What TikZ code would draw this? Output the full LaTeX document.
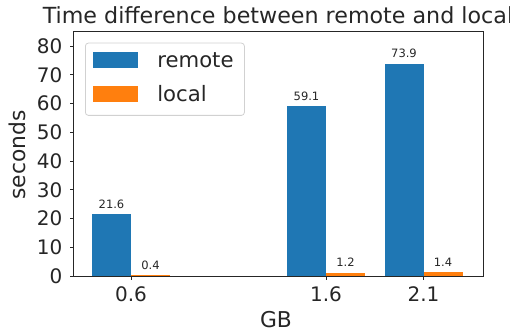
\documentclass[tikz,border=0pt]{standalone}
\usepackage{fontspec}
\setmainfont{DejaVu Sans}
\usepackage{xcolor}
\usetikzlibrary{positioning}
\definecolor{remoteblue}{HTML}{1F77B4}
\definecolor{localorange}{HTML}{FF7F0E}
\definecolor{inkgray}{HTML}{262626}

\begin{document}
\begin{tikzpicture}[
    x=1pt, y=-1pt,
    every node/.style={inner sep=0pt, text=inkgray},
    spine/.style={draw=inkgray, line width=0.9pt},
    tickmark/.style={draw=inkgray, line width=0.8pt},
    ticklabel/.style={font=\fontsize{20}{24}\selectfont},
    axlabel/.style={font=\fontsize{21.8}{26}\selectfont},
    barlabel/.style={font=\fontsize{11.5}{14}\selectfont, anchor=base},
    legendbox/.style={draw=black!18, fill=white, rounded corners=3pt, line width=0.8pt, anchor=north west},
    swatch/.style={minimum width=45pt, minimum height=16pt, anchor=north west},
    legendtext/.style={font=\fontsize{21.2}{25}\selectfont}
  ]
    \useasboundingbox (0,0) rectangle (510,336);

    % bars, in data units (GB along x, seconds up)
    \begin{scope}[shift={(14,276)}, x=195pt, y=2.875pt]
      \foreach \g/\r/\l [count=\i] in {0.6/21.6/0.4, 1.6/59.1/1.2, 2.1/73.9/1.4} {
        \fill[remoteblue] (\g-0.2,0) rectangle (\g,\r);
        \fill[localorange] (\g,0) rectangle (\g+0.2,\l);
        \node[barlabel] (rlab\i) at ([yshift=5.8pt]\g-0.1,\r) {\r};
        \node[barlabel] (llab\i) at ([yshift=5.8pt]\g+0.1,\l) {\l};
      }
    \end{scope}

    % axes frame and ticks
    \draw[spine] (73,31.7) rectangle (483,276);
    \foreach \v in {0,10,...,80} {
      \draw[tickmark] (73,276-\v*2.875) -- ++(-3.5,0);
      \node[ticklabel, anchor=east] (yt\v) at (62.5,276-\v*2.875) {\v};
    }
    \foreach \g [count=\i] in {0.6,1.6,2.1} {
      \pgfmathsetmacro\px{14+\g*195}
      \draw[tickmark] (\px,276) -- ++(0,3.5);
      \node[ticklabel, anchor=base] (xt\i) at (\px,301.5) {\g};
    }

    % titles
    \node[font=\fontsize{22.2}{26}\selectfont, anchor=base] (title) at (278,24) {Time difference between remote and local};
    \node[axlabel, anchor=base] (xlab) at (276,327.5) {GB};
    \node[axlabel, rotate=90, anchor=base] (ylab) at (25,155) {seconds};

    % legend
    \node[legendbox, minimum width=159pt, minimum height=72.3pt] (legend) at (85,42.7) {};
    \node[swatch, fill=remoteblue] (rswatch) at (92.3,51.7) {};
    \node[swatch, fill=localorange, below=17.3pt of rswatch] (lswatch) {};
    \node[legendtext, right=19.4pt of rswatch] (rtext) {remote};
    \node[legendtext, right=19.4pt of lswatch] (ltext) {local};
  \end{tikzpicture}
\end{document}
